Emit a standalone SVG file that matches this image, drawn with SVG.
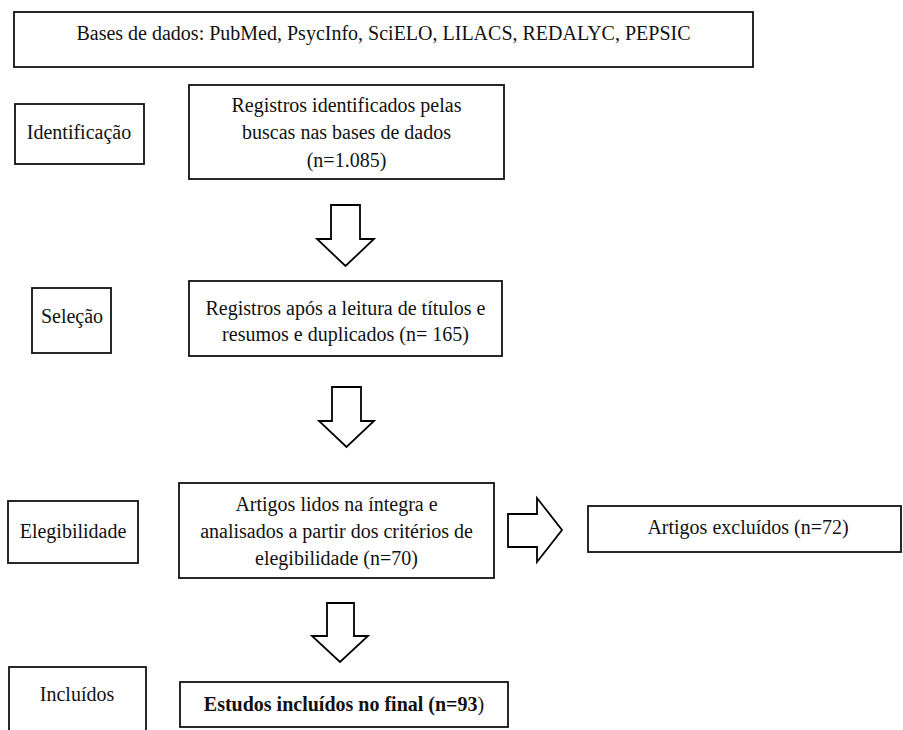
<svg xmlns="http://www.w3.org/2000/svg" width="903" height="730" viewBox="0 0 903 730">
<style>
.box{fill:#fff;stroke:#111;stroke-width:1.8}
.arr{fill:#fff;stroke:#000;stroke-width:1.8;stroke-linejoin:miter}
.t{font-size:20px;fill:#111;text-anchor:middle}
.b{font-weight:bold}
</style>
<rect width="903" height="730" fill="#fff"/>
<g font-family="'Liberation Serif', 'Times New Roman', 'DejaVu Serif', serif">
<g id="bases"><rect class="box" x="14" y="12" width="739" height="55"/><text class="t" x="383.5" y="40">Bases de dados: PubMed, PsycInfo, SciELO, LILACS, REDALYC, PEPSIC</text></g>
<g id="identificacao"><rect class="box" x="15" y="104" width="129" height="60"/><text class="t" x="79" y="138.5">Identificação</text></g>
<g id="registros-identificados"><rect class="box" x="189" y="85" width="315" height="94"/><text class="t" x="346.5" y="111.5">Registros identificados pelas</text><text class="t" x="346.5" y="139">buscas nas bases de dados</text><text class="t" x="346.5" y="166.5">(n=1.085)</text></g>
<g id="selecao"><rect class="box" x="32" y="288" width="79" height="65"/><text class="t" x="72" y="322.5">Seleção</text></g>
<g id="registros-apos"><rect class="box" x="189" y="281" width="313" height="75"/><text class="t" x="345.5" y="314.5">Registros após a leitura de títulos e</text><text class="t" x="345.5" y="340.5">resumos e duplicados (n= 165)</text></g>
<g id="elegibilidade"><rect class="box" x="8" y="501" width="130" height="62"/><text class="t" x="73" y="538">Elegibilidade</text></g>
<g id="artigos-lidos"><rect class="box" x="179" y="483" width="315" height="95"/><text class="t" x="336.5" y="511">Artigos lidos na íntegra e</text><text class="t" x="336.5" y="537.5">analisados a partir dos critérios de</text><text class="t" x="336.5" y="564.5">elegibilidade (n=70)</text></g>
<g id="excluidos"><rect class="box" x="588" y="506" width="313" height="46"/><text class="t" x="748" y="534">Artigos excluídos (n=72)</text></g>
<g id="incluidos"><rect class="box" x="9" y="667" width="137" height="75"/><text class="t" x="77" y="701">Incluídos</text></g>
<g id="estudos-incluidos"><rect class="box" x="180" y="682" width="328" height="45"/><text class="t" x="344" y="710.5"><tspan class="b">Estudos incluídos no final (n=93</tspan>)</text></g>
</g>
<g id="connectors">
<polygon class="arr" points="331,205 360,205 360,239 374,239 345.5,266 317,239 331,239"/>
<polygon class="arr" points="332,387 361,387 361,421 374,421 346.5,447 319,421 332,421"/>
<polygon class="arr" points="327,603 354,603 354,636 368,636 340,662 312,636 327,636"/>
<polygon class="arr" points="508,514 537,514 537,498 562,530 537,562 537,547 508,547"/>
</g>
</svg>
